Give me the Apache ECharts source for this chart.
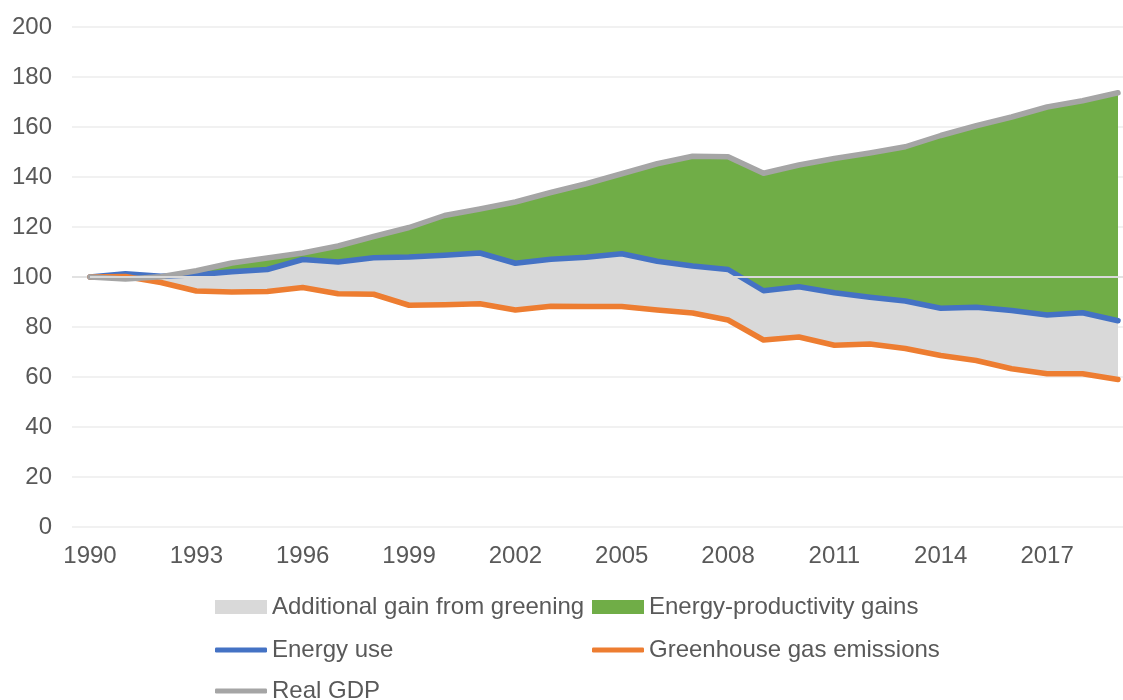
<!DOCTYPE html>
<html>
<head>
<meta charset="utf-8">
<script src="https://cdn.jsdelivr.net/npm/echarts@6/dist/echarts.min.js"></script>
<style>html,body{margin:0;padding:0;background:#fff}#c{width:1123px;height:700px}</style>
</head>
<body>
<div id="c"></div>
<script>
const years = ['1990','1991','1992','1993','1994','1995','1996','1997','1998','1999','2000','2001','2002','2003','2004','2005','2006','2007','2008','2009','2010','2011','2012','2013','2014','2015','2016','2017','2018','2019'];
const realGDP = [100,99.2,100.1,102.5,105.6,107.6,109.6,112.4,116.2,119.8,124.6,127.2,130.0,133.8,137.3,141.3,145.3,148.3,148.1,141.5,144.8,147.4,149.6,152.1,156.6,160.5,164.0,168.0,170.5,173.7];
const energyUse = [100,101.3,100.3,100.9,102.1,103.0,107.0,106.0,107.7,108.0,108.7,109.6,105.5,107.1,107.9,109.3,106.3,104.4,103.0,94.5,96.1,93.7,91.9,90.4,87.5,87.9,86.6,84.8,85.7,82.5];
const ghgEmissions = [100,100.2,97.8,94.4,94.0,94.2,95.8,93.3,93.1,88.7,88.9,89.3,86.8,88.3,88.2,88.2,86.8,85.6,82.8,74.8,76.0,72.7,73.2,71.4,68.6,66.6,63.3,61.3,61.3,59.0];
const yTicks = [0,20,40,60,80,100,120,140,160,180,200];
const baseline = 100;

const greeningGain = energyUse.map((v,i)=>+(v - ghgEmissions[i]).toFixed(2));
const productivityGain = realGDP.map((v,i)=>+(v - energyUse[i]).toFixed(2));

const txt = '#595959';
const font = 'Liberation Sans, Arial, sans-serif';
const fs = 24;
const lw = 5.5;
const gridColors = yTicks.slice(0, -1).map(t => t === baseline ? '#d9d9d9' : '#ececec');
const chart = echarts.init(document.getElementById('c'));
const legendBase = {orient:'horizontal', padding:0, itemGap:0, textStyle:{color:txt, fontSize:fs, fontFamily:font}, itemWidth:52, itemHeight:14, selectedMode:false};
chart.setOption({
  animation:false,
  grid:[
    {left:90, top:27, right:5, height:500},
    {left:72, top:27, right:0, height:500}
  ],
  xAxis:[
    {type:'category', gridIndex:0, data:years, boundaryGap:false,
      axisLine:{show:false}, axisTick:{show:false},
      axisLabel:{interval:2, color:txt, fontSize:fs, fontFamily:font, margin:17},
      splitLine:{show:false}},
    {type:'value', gridIndex:1, min:0, max:1, show:false}
  ],
  yAxis:[
    {type:'value', gridIndex:0, min:yTicks[0], max:yTicks[yTicks.length-1], interval:20, show:false},
    {type:'value', gridIndex:1, min:yTicks[0], max:yTicks[yTicks.length-1], interval:20,
      axisLine:{show:false}, axisTick:{show:false},
      axisLabel:{color:txt, fontSize:fs, fontFamily:font, margin:20},
      splitLine:{lineStyle:{color:gridColors, width:1.5}}}
  ],
  legend:[
    Object.assign({}, legendBase, {left:215, top:595, data:[{name:'Additional gain from greening', icon:'rect'}]}),
    Object.assign({}, legendBase, {left:592, top:595, data:[{name:'Energy-productivity gains', icon:'rect'}]}),
    Object.assign({}, legendBase, {left:215, top:638, itemHeight:5, data:[{name:'Energy use', icon:'roundRect'}]}),
    Object.assign({}, legendBase, {left:592, top:638, itemHeight:5, data:[{name:'Greenhouse gas emissions', icon:'roundRect'}]}),
    Object.assign({}, legendBase, {left:215, top:679, itemHeight:5, data:[{name:'Real GDP', icon:'roundRect'}]})
  ],
  series:[
    {name:'base', type:'line', stack:'s', stackStrategy:'all', data:ghgEmissions, symbol:'none', lineStyle:{opacity:0}, silent:true, z:1},
    {name:'Additional gain from greening', type:'line', stack:'s', stackStrategy:'all', data:greeningGain, symbol:'none',
      lineStyle:{opacity:0}, areaStyle:{color:'#d9d9d9', opacity:1}, itemStyle:{color:'#d9d9d9'}, z:1},
    {name:'Energy-productivity gains', type:'line', stack:'s', stackStrategy:'all', data:productivityGain, symbol:'none',
      lineStyle:{opacity:0}, areaStyle:{color:'#70ad47', opacity:1}, itemStyle:{color:'#70ad47'}, z:1,
      markLine:{silent:true, symbol:'none', label:{show:false}, lineStyle:{color:'#d9d9d9', width:2, type:'solid'}, data:[{yAxis:baseline}]}},
    {name:'Energy use', type:'line', data:energyUse, symbol:'none', lineStyle:{color:'#4472c4', width:lw, cap:'round', join:'round'}, itemStyle:{color:'#4472c4'}, z:3},
    {name:'Greenhouse gas emissions', type:'line', data:ghgEmissions, symbol:'none', lineStyle:{color:'#ed7d31', width:lw, cap:'round', join:'round'}, itemStyle:{color:'#ed7d31'}, z:3},
    {name:'Real GDP', type:'line', data:realGDP, symbol:'none', lineStyle:{color:'#a5a5a5', width:lw, cap:'round', join:'round'}, itemStyle:{color:'#a5a5a5'}, z:4}
  ]
});
</script>
</body>
</html>
